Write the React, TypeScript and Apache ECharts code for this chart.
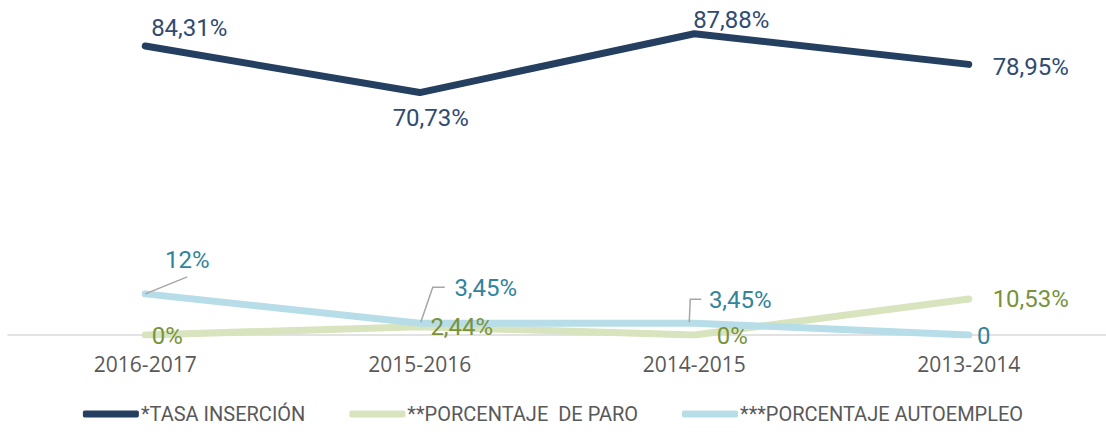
import React, { useEffect, useRef } from "react";
import * as echarts from "echarts";

const categories = ["2016-2017", "2015-2016", "2014-2015", "2013-2014"];
const seriesNames = ["*TASA INSERCIÓN", "**PORCENTAJE  DE PARO", "***PORCENTAJE AUTOEMPLEO"];
const tasaInsercion = [84.31, 70.73, 87.88, 78.95];
const porcentajeParo = [0, 2.44, 0, 10.53];
const porcentajeAutoempleo = [12, 3.45, 3.45, 0];
const tasaLabels = ["84,31%", "70,73%", "87,88%", "78,95%"];
const paroLabels = ["0%", "2,44%", "0%", "10,53%"];
const autoLabels = ["12%", "3,45%", "3,45%", "0"];

// label offsets relative to the point (style)
const tasaOffsets = [[44, -18], [11, 25], [37, -14], [62, 3]];
const paroOffsets = [[22, 1], [42, 0], [38, 1], [62, 0]];
const autoOffsets = [[42, -34], [66, -35], [46, -23], [15, 1]];

const NARROW = '"Roboto", sans-serif';

export default function App() {
  const ref = useRef<HTMLDivElement>(null);
  useEffect(() => {
    if (!ref.current) return;
    const chart = echarts.init(ref.current, null, { renderer: "svg" });

    const makeData = (vals: number[], labels: string[], offs: number[][], color: string) =>
      vals.map((v, i) => ({
        value: v,
        label: {
          show: true,
          position: "inside",
          offset: offs[i],
          formatter: labels[i],
          color,
          fontSize: 24,
          fontFamily: NARROW,
        },
      }));

    const option: any = {
      animation: false,
      backgroundColor: "#ffffff",
      grid: { left: 8, width: 1104, top: 26.5, height: 308.5 },
      xAxis: {
        type: "category",
        data: categories,
        boundaryGap: true,
        axisLine: { lineStyle: { color: "#d9d9d9", width: 1.5 } },
        axisTick: { show: false },
        axisLabel: { color: "#595959", fontSize: 21, fontFamily: '"Open Sans", sans-serif', margin: 18 },
      },
      yAxis: { type: "value", min: 0, max: 90, show: false, splitLine: { show: false } },
      legend: {
        bottom: 3,
        left: "center",
        itemWidth: 56,
        itemHeight: 7,
        itemGap: 44,
        icon: "roundRect",
        textStyle: { color: "#595959", fontSize: 20, fontFamily: NARROW, padding: [0, 0, 0, -3] },
        data: seriesNames,
      },
      series: [
        {
          name: seriesNames[0],
          type: "line",
          data: makeData(tasaInsercion, tasaLabels, tasaOffsets, "#2f4b72"),
          symbol: "circle",
          symbolSize: 1,
          lineStyle: { color: "#243f60", width: 7, cap: "round", join: "round" },
          itemStyle: { color: "#243f60" },
          z: 3,
        },
        {
          name: seriesNames[1],
          type: "line",
          data: makeData(porcentajeParo, paroLabels, paroOffsets, "#77933c"),
          symbol: "circle",
          symbolSize: 1,
          lineStyle: { color: "#d7e4bd", width: 7, cap: "round", join: "round" },
          itemStyle: { color: "#d7e4bd" },
          z: 2,
        },
        {
          name: seriesNames[2],
          type: "line",
          data: makeData(porcentajeAutoempleo, autoLabels, autoOffsets, "#31849b"),
          symbol: "circle",
          symbolSize: 1,
          lineStyle: { color: "#b7dde8", width: 7, cap: "round", join: "round" },
          itemStyle: { color: "#b7dde8" },
          z: 2,
        },
      ],
    };
    chart.setOption(option);

    // leader lines for autoempleo labels, computed through the chart's scales
    const p = (i: number, v: number) => chart.convertToPixel({ seriesIndex: 2 }, [i, v]) as number[];
    const a0 = p(0, porcentajeAutoempleo[0]);
    const a1 = p(1, porcentajeAutoempleo[1]);
    const a2 = p(2, porcentajeAutoempleo[2]);
    chart.setOption({
      graphic: [
        {
          type: "polyline",
          shape: { points: [[a0[0], a0[1]], [a0[0] + 42, a0[1] - 17]] },
          style: { stroke: "#a6a6a6", lineWidth: 1.5, fill: "none" },
          z: 10,
        },
        {
          type: "polyline",
          shape: { points: [[a1[0] + 1, a1[1] - 1], [a1[0] + 13, a1[1] - 36], [a1[0] + 25, a1[1] - 36]] },
          style: { stroke: "#a6a6a6", lineWidth: 1.5, fill: "none" },
          z: 10,
        },
        {
          type: "polyline",
          shape: { points: [[a2[0] - 5, a2[1] - 1], [a2[0] - 4, a2[1] - 24], [a2[0] + 7, a2[1] - 24]] },
          style: { stroke: "#a6a6a6", lineWidth: 1.5, fill: "none" },
          z: 10,
        },
      ],
    });

    return () => chart.dispose();
  }, []);
  return (
    <div
      ref={ref}
      style={{ position: "fixed", left: 0, top: 0, width: 1106, height: 432 }}
    />
  );
}
